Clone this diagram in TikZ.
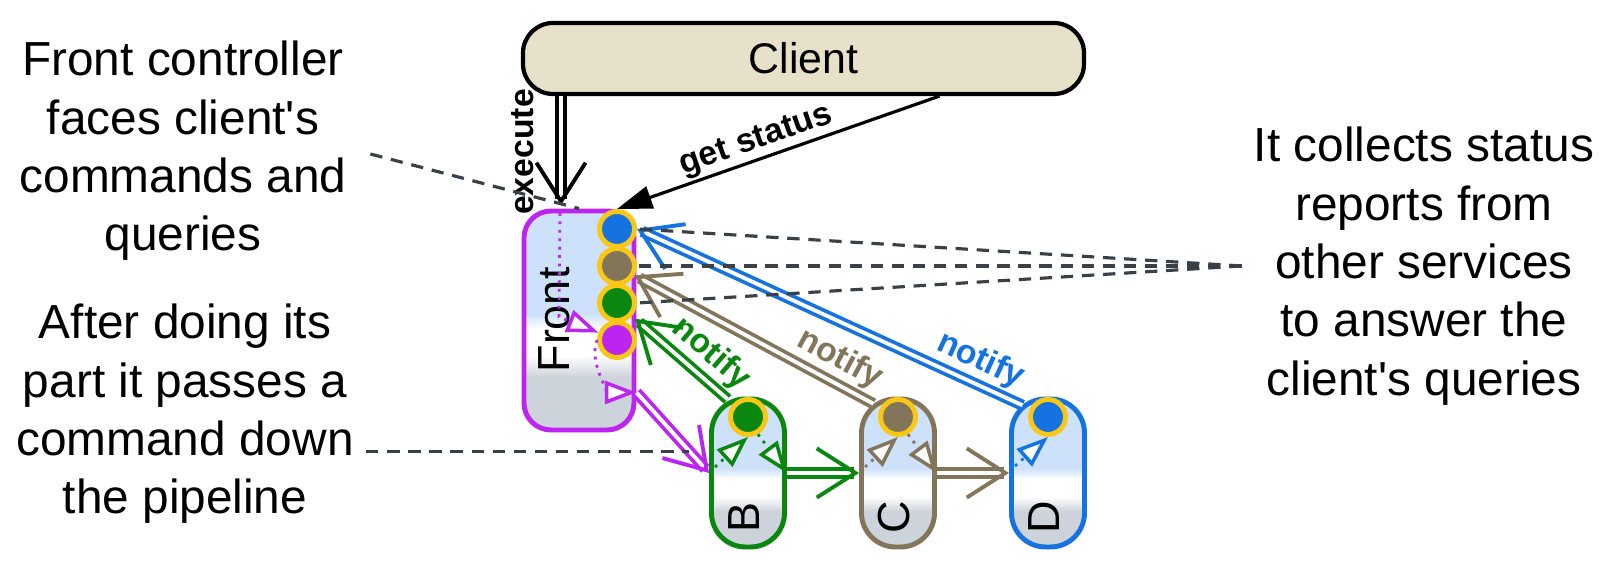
\documentclass[tikz,border=0pt]{standalone}
\usepackage{fontspec}
\setmainfont{Liberation Sans}
\usetikzlibrary{arrows.meta}

\definecolor{frontpurple}{RGB}{190,36,240}
\definecolor{bgreen}{RGB}{10,135,15}
\definecolor{cbrown}{RGB}{130,117,90}
\definecolor{dblue}{RGB}{20,115,225}
\definecolor{ringyellow}{RGB}{250,200,20}
\definecolor{clientbeige}{RGB}{230,225,200}
\definecolor{boxblue}{RGB}{205,226,250}
\definecolor{boxgray}{RGB}{205,211,218}
\definecolor{notegray}{RGB}{58,64,72}

\pgfdeclareverticalshading{svcshade}{100bp}{color(0bp)=(boxgray); color(37bp)=(boxgray); color(42bp)=(white); color(48bp)=(white); color(51.5bp)=(boxblue); color(100bp)=(boxblue)}

\tikzset{
  svc/.style={draw=#1, line width=1.4pt, shading=svcshade, rounded corners=0.34cm, minimum width=0.73cm, minimum height=1.48cm, inner sep=0pt},
  dot/.style={circle, draw=ringyellow, line width=1.4pt, fill=#1, minimum size=0.35cm, inner sep=0pt},
  note/.style={align=center, font=\fontsize{13.6}{16.6}\selectfont},
  big/.style={font=\fontsize{12.8}{14}\selectfont},
  lbl/.style={font=\fontsize{9.6}{11}\selectfont\bfseries, inner sep=1.6pt},
  dbl/.style={draw=#1, line width=1.05pt, double=white, double distance=1.1pt, -{Straight Barb[length=11pt, width=14pt, line width=1.1pt]}},
  flow/.style={draw=#1, line width=0.8pt, dash pattern=on 0.8pt off 1.6pt, -{Triangle[open, length=9pt, width=6.5pt, line width=1pt, fill=white]}},
  noteline/.style={draw=notegray, line width=0.9pt, dash pattern=on 3.5pt off 2.5pt}
}

\begin{document}
\begin{tikzpicture}
\useasboundingbox (0,0) rectangle (16.18,5.61);
\node[draw=black, line width=1.2pt, fill=clientbeige, rounded corners=0.3cm, minimum width=5.61cm, minimum height=0.71cm, font=\fontsize{12.2}{14}\selectfont] (client) at (8.035,5.025) {Client};
\node[svc=frontpurple, rounded corners=0.27cm, minimum width=1.10cm, minimum height=2.19cm] (front) at (5.79,2.405) {};
\node[big, rotate=90] (frontlbl) at (5.54,2.41) {Front};
\node[svc=bgreen] (bbox) at (7.48,0.88) {};
\node[svc=cbrown] (cbox) at (8.98,0.88) {};
\node[svc=dblue] (dbox) at (10.48,0.88) {};
\node[big, rotate=90] (blbl) at (7.44,0.43) {B};
\node[big, rotate=90] (clbl) at (8.94,0.44) {C};
\node[big, rotate=90] (dlbl) at (10.44,0.44) {D};
% status dots
\node[dot=dblue] (fdot1) at (6.17,3.32) {};
\node[dot=cbrown] (fdot2) at (6.17,2.95) {};
\node[dot=bgreen] (fdot3) at (6.17,2.58) {};
\node[dot=frontpurple] (fdot4) at (6.17,2.21) {};
\node[dot=bgreen] (bdot) at (7.48,1.44) {};
\node[dot=cbrown] (cdot) at (8.98,1.44) {};
\node[dot=dblue] (ddot) at (10.48,1.44) {};
% notes
\node[note] (note1) at (1.83,4.10) {Front controller\\faces client\textquotesingle s\\commands and\\queries};
\node[note] (note2) at (1.85,1.47) {After doing its\\part it passes a\\command down\\the pipeline};
\node[note] (note3) at (14.24,2.95) {It collects status\\reports from\\other services\\to answer the\\client\textquotesingle s queries};
% commands
\coordinate (exetip) at (5.61,3.56);
\coordinate (fin) at (5.60,3.48);
\coordinate (fturn) at (5.59,2.44);
\coordinate (fout) at ([yshift=-0.72cm]front.east);
\coordinate (bin) at (7.15,0.94);
\coordinate (cin) at (8.65,0.94);
\coordinate (din) at (10.15,0.95);
\draw[dbl=black] (client.south -| exetip) -- (exetip);
\node[lbl, rotate=90] (exelbl) at (5.23,4.09) {execute};
\draw[black, line width=0.9pt, -{Triangle[length=10pt, width=6.5pt]}] ([xshift=1.36cm]client.south) -- (fdot1.north) node[lbl, inner sep=0.5pt, sloped, above, pos=0.55] {get status};
\draw[dbl=frontpurple] (fout) -- (bbox.west) coordinate[pos=0.73] (pipe);
\draw[dbl=bgreen] (bbox.east) -- (cbox.west);
\draw[dbl=cbrown] (cbox.east) -- (dbox.west);
% notifications
\draw[dbl=bgreen, shorten <=0.07cm, shorten >=0.04cm] (bdot) -- (fdot3) node[lbl, text=bgreen, sloped, above, pos=0.37] {notify};
\draw[dbl=cbrown, shorten <=0.08cm] (cdot) -- (fdot2) node[lbl, text=cbrown, sloped, above, pos=0.21] {notify};
\draw[dbl=dblue, shorten <=0.08cm] (ddot) -- (fdot1.east) node[lbl, text=dblue, sloped, above, pos=0.15] {notify};
% inner flow
\draw[flow=frontpurple] (fin) -- (fturn) -- (fdot4);
\draw[flow=frontpurple] (fdot4.west) to[out=-110, in=180] (fout);
\draw[flow=bgreen] (bin) -- (bdot.south);
\draw[flow=bgreen] (bdot.-60) -- (bbox.east);
\draw[flow=cbrown] (cin) -- (cdot.south);
\draw[flow=cbrown] (cdot.-60) -- (cbox.east);
\draw[flow=dblue] (din) -- (ddot.south);
% notes to parts
\draw[noteline, shorten <=0.12cm] (note1.east) -- (front.north);
\draw[noteline] (note2.east |- pipe) -- (pipe);
\foreach \d in {fdot1,fdot2,fdot3}
  \draw[noteline] (note3.west) -- (\d.east);
\end{tikzpicture}
\end{document}
